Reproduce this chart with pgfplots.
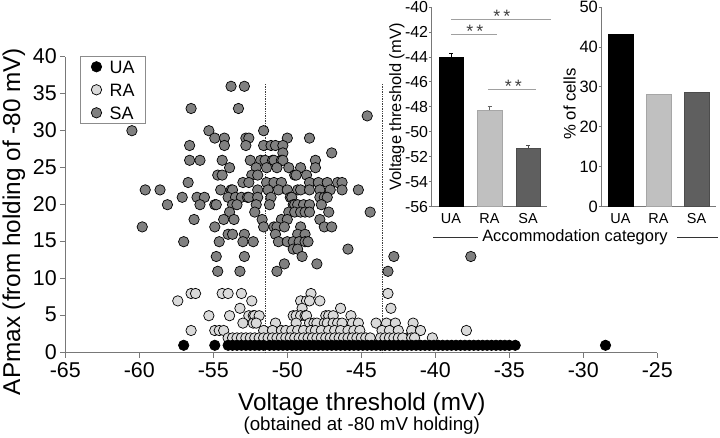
\documentclass[border=0pt]{standalone}
\usepackage{fontspec}
\setmainfont{Liberation Sans}
\usepackage{pgfplots}
\pgfplotsset{compat=1.18}
\definecolor{saFill}{RGB}{128,128,128}
\definecolor{raFill}{RGB}{218,218,218}
\definecolor{raBar}{RGB}{192,192,192}
\definecolor{saBar}{RGB}{95,95,95}
\definecolor{sigGray}{RGB}{160,160,160}
\definecolor{axGray}{RGB}{120,120,120}
\begin{document}
\begin{tikzpicture}
\path[use as bounding box] (0,0) rectangle (720bp,438bp);
% ---------------- main scatter ----------------
\begin{axis}[
  at={(65.3bp,85.3bp)}, anchor=south west, scale only axis,
  width=592bp, height=296bp,
  xmin=-65, xmax=-25, ymin=0, ymax=40,
  axis lines=left, axis line style={-, axGray, line width=0.8bp},
  xtick={-65,-60,...,-25}, ytick={0,5,...,40},
  tick align=outside, major tick length=5bp,
  tick style={axGray, line width=0.8bp},
  ticklabel style={font=\fontsize{21.5}{24}\selectfont},
  xticklabel style={yshift=-1.5bp},
  yticklabel style={yshift=1bp},
  /pgf/number format/assume math mode=true,
  mark size=5.2bp,
  reverse legend,
  legend cell align=left,
  legend style={at={(0.0248,1.0024)}, anchor=north west, draw=black!45,
    line width=0.6bp, fill=white, inner xsep=11bp, inner ysep=4bp,
    row sep=10bp, font=\fontsize{18}{18}\selectfont,
    nodes={inner sep=0pt, text height=13bp, text depth=0bp},
    /tikz/every odd column/.append style={column sep=8bp}},
  legend image code/.code={\draw[#1, mark repeat=2, mark phase=2]
    plot coordinates {(0bp,0bp) (6bp,0bp) (12bp,0bp)};},
]
\addplot[densely dotted, black!75, line width=0.7bp, forget plot] coordinates {(-51.5,0) (-51.5,36.3)};
\addplot[densely dotted, black!75, line width=0.7bp, forget plot] coordinates {(-43.6,0) (-43.6,36.3)};
% SA
\addplot[only marks, mark=*, mark options={draw=black, fill=saFill, line width=0.7bp}] coordinates {
(-53.8,36) (-52.9,36)
(-56.5,33) (-53.3,33) (-44.6,32)
(-60.5,30) (-55.3,30) (-51.6,30)
(-54.9,29) (-54.25,29) (-52.8,29) (-52.6,29) (-50.0,29) (-48.5,29)
(-56.6,28) (-54.25,28) (-52.8,28) (-51.6,28) (-51.1,28) (-50.8,28) (-50.3,28)
(-50.3,27) (-47.0,27)
(-56.6,26) (-55.9,26) (-54.4,26) (-52.5,26) (-51.8,26) (-51.5,26) (-51.0,26) (-50.9,26) (-50.4,26) (-50.3,26) (-48.1,26)
(-53.9,25) (-52.1,25) (-51.4,25) (-50.7,25) (-49.9,25) (-49.1,25) (-48.1,25)
(-54.7,24) (-54.4,24) (-52.4,24) (-52.0,24) (-49.5,24) (-49.4,24) (-48.7,24)
(-56.7,23) (-53.0,23) (-52.6,23) (-51.4,23) (-50.9,23) (-50.4,23) (-48.5,23) (-47.9,23) (-47.3,23) (-46.6,23) (-46.3,23)
(-59.6,22) (-58.6,22) (-54.5,22) (-53.8,22) (-53.7,22) (-52.0,22) (-51.3,22) (-50.6,22) (-50.0,22) (-49.3,22) (-49.1,22) (-48.5,22) (-47.8,22) (-47.1,22) (-46.3,22) (-45.2,22)
(-57.1,21) (-56.1,21) (-55.6,21) (-54.0,21) (-53.5,21) (-53.1,21) (-52.7,21) (-52.6,21) (-52.0,21) (-51.1,21) (-49.8,21) (-49.7,21) (-47.8,21) (-47.5,21) (-47.3,21)
(-58.1,20) (-55.9,20) (-54.9,20) (-54.8,20) (-53.7,20) (-53.4,20) (-52.1,20) (-51.2,20) (-49.6,20) (-49.5,20) (-49.3,20) (-48.9,20) (-48.5,20) (-47.7,20)
(-53.9,19) (-52.2,19) (-49.9,19) (-49.5,19) (-49.1,19) (-48.8,19) (-48.5,19) (-47.2,19) (-44.4,19)
(-56.3,18) (-54.3,18) (-53.6,18) (-51.7,18) (-50.4,18) (-50.0,18) (-47.8,18)
(-59.8,17) (-54.9,17) (-51.6,17) (-50.9,17) (-50.7,17) (-50.2,17) (-49.1,17) (-47.5,17) (-47.0,17)
(-54.0,16) (-53.7,16) (-52.9,16) (-50.8,16) (-49.3,16) (-48.8,16)
(-57.0,15) (-54.6,15) (-53.0,15) (-52.3,15) (-50.6,15) (-50.0,15) (-49.6,15) (-49.2,15) (-48.8,15) (-48.6,15)
(-49.6,14) (-49.3,14) (-45.9,14)
(-54.8,13) (-52.9,13) (-49.0,13) (-42.8,13) (-37.6,13)
(-50.2,12) (-48.0,12)
(-54.7,11) (-53.2,11) (-50.7,11) (-43.2,11)
(-41.9,2)
};
\addlegendentry{SA}
% RA
\addplot[only marks, mark=*, mark options={draw=black, fill=raFill, line width=0.7bp}] coordinates {
(-56.5,8) (-56.2,8) (-54.4,8) (-54.0,8) (-53.1,8) (-48.4,8) (-43.2,8)
(-57.4,7) (-52.4,7) (-49.1,7) (-48.7,7) (-48.5,7) (-47.8,7)
(-53.2,6) (-49.0,6) (-46.4,6) (-43.0,6)
(-55.3,5) (-53.9,5) (-52.6,5) (-52.3,5) (-52.2,5) (-51.9,5) (-49.6,5) (-49.4,5) (-49.1,5) (-48.8,5) (-48.7,5) (-47.4,5) (-47.2,5) (-46.9,5) (-45.7,5)
(-53.0,4) (-52.3,4) (-52.1,4) (-50.8,4) (-49.4,4) (-48.5,4) (-48.2,4) (-48.0,4) (-47.5,4) (-47.3,4) (-46.9,4) (-46.6,4) (-46.3,4) (-45.6,4) (-45.2,4) (-44.0,4) (-43.3,4) (-42.7,4) (-41.5,4)
(-56.5,3) (-54.9,3) (-54.6,3) (-54.3,3) (-51.6,3) (-51.0,3) (-50.4,3) (-50.1,3) (-49.7,3) (-49.3,3) (-48.9,3) (-48.4,3) (-48.1,3) (-47.7,3) (-47.2,3) (-46.8,3) (-46.4,3) (-45.9,3) (-45.5,3) (-45.1,3) (-43.6,3) (-43.1,3) (-42.5,3) (-41.6,3) (-41.0,3) (-37.9,3)
(-54.0,2) (-53.7,2) (-53.4,2) (-53.1,2) (-52.8,2) (-52.5,2) (-52.2,2) (-51.9,2) (-51.6,2) (-51.3,2) (-51.0,2) (-50.7,2) (-50.4,2) (-50.1,2) (-49.8,2) (-49.5,2) (-49.2,2) (-48.9,2) (-48.6,2) (-48.3,2) (-48.0,2) (-47.7,2) (-47.4,2) (-47.1,2) (-46.8,2) (-46.5,2) (-46.2,2) (-45.9,2) (-45.6,2) (-45.3,2) (-45.0,2) (-44.7,2) (-44.4,2)
(-43.7,2) (-43.4,2) (-43.1,2) (-42.8,2) (-42.5,2) (-42.2,2) (-41.6,2) (-41.4,2) (-40.2,2)
};
\addlegendentry{RA}
% UA
\addplot[only marks, mark=*, mark options={draw=black, fill=black, line width=0.7bp}] coordinates {
(-57.0,1) (-54.9,1) (-54.0,1) (-53.7,1) (-53.4,1) (-53.1,1) (-52.8,1) (-52.5,1) (-52.2,1) (-51.9,1) (-51.6,1)
(-51.2,1) (-50.9,1) (-50.6,1) (-50.3,1) (-50.0,1) (-49.7,1) (-49.4,1) (-49.1,1) (-48.8,1) (-48.5,1)
(-48.2,1) (-47.9,1) (-47.6,1) (-47.3,1) (-47.0,1) (-46.7,1) (-46.4,1) (-46.1,1) (-45.8,1) (-45.5,1)
(-45.2,1) (-44.9,1) (-44.6,1) (-44.3,1) (-44.0,1) (-43.7,1) (-43.4,1) (-43.1,1) (-42.8,1) (-42.5,1)
(-42.2,1) (-41.9,1) (-41.6,1) (-41.3,1) (-41.0,1) (-40.7,1) (-40.4,1) (-40.1,1) (-39.8,1) (-39.5,1)
(-39.2,1) (-38.9,1) (-38.6,1) (-38.3,1) (-38.0,1) (-37.7,1) (-37.4,1) (-37.1,1) (-36.8,1) (-36.5,1)
(-36.2,1) (-35.9,1) (-35.6,1) (-35.3,1) (-35.0,1) (-34.6,1) (-28.5,1)
};
\addlegendentry{UA}
\end{axis}
% ---------------- inset 1: voltage threshold ----------------
\begin{axis}[
  at={(431.75bp,231.3bp)}, anchor=south west, scale only axis,
  width=115.5bp, height=199.7bp,
  xmin=-0.5, xmax=2.5, ymin=0, ymax=16, enlargelimits=false,
  y filter/.expression={y+56},
  axis lines=left, axis line style={-, axGray, line width=0.8bp},
  xtick={0,1,2}, xticklabels={UA,RA,SA},
  ytick={0,2,...,16}, yticklabels={-56,-54,-52,-50,-48,-46,-44,-42,-40},
  tick align=outside, major tick length=3bp,
  xtick style={draw=none}, ytick style={axGray, line width=0.8bp},
  xticklabel style={font=\fontsize{14.5}{15}\selectfont},
  yticklabel style={font=\fontsize{16}{17}\selectfont, inner xsep=0.5bp},
  clip=false,
]
\addplot[ybar, bar width=24.5bp, bar shift=0pt, fill=black, draw=black,
  error bars/.cd, y dir=plus, y explicit,
  error bar style={black, line width=0.8bp}, error mark options={rotate=90, mark size=2bp, black}]
  coordinates {(0,-44.06) +- (0,0.35)};
\addplot[ybar, bar width=24.5bp, bar shift=0pt, fill=raBar, draw=black!35, line width=0.5bp,
  error bars/.cd, y dir=plus, y explicit,
  error bar style={black!60, line width=0.8bp}, error mark options={rotate=90, mark size=2bp, black!60}]
  coordinates {(1,-48.28) +- (0,0.35)};
\addplot[ybar, bar width=24.5bp, bar shift=0pt, fill=saBar, draw=black!70, line width=0.5bp,
  error bars/.cd, y dir=plus, y explicit,
  error bar style={black!70, line width=0.8bp}, error mark options={rotate=90, mark size=2bp, black!70}]
  coordinates {(2,-51.32) +- (0,0.26)};
\addplot[sigGray, line width=0.9bp] coordinates {(0,-41) (2.6,-41)};
\addplot[sigGray, line width=0.9bp] coordinates {(0,-42.2) (1.2,-42.2)};
\addplot[sigGray, line width=0.9bp] coordinates {(0.96,-46.6) (2.2,-46.6)};
\node[anchor=north, inner sep=0pt, font=\fontsize{18}{18}\selectfont, text=black!75] at (axis cs:1.32,15.76) {*\,*};
\node[anchor=north, inner sep=0pt, font=\fontsize{18}{18}\selectfont, text=black!75] at (axis cs:0.62,14.56) {*\,*};
\node[anchor=north, inner sep=0pt, font=\fontsize{18}{18}\selectfont, text=black!75] at (axis cs:1.62,10.15) {*\,*};
\end{axis}
% ---------------- inset 2: percent of cells ----------------
\begin{axis}[
  at={(601.5bp,231.3bp)}, anchor=south west, scale only axis,
  width=114bp, height=199.7bp,
  xmin=-0.5, xmax=2.5, ymin=0, ymax=50, enlargelimits=false,
  axis lines=left, axis line style={-, axGray, line width=0.8bp},
  xtick={0,1,2}, xticklabels={UA,RA,SA},
  ytick={0,10,...,50},
  tick align=outside, major tick length=3bp,
  xtick style={draw=none}, ytick style={axGray, line width=0.8bp},
  xticklabel style={font=\fontsize{14.5}{15}\selectfont},
  yticklabel style={font=\fontsize{16.5}{17}\selectfont, inner xsep=0.5bp},
  /pgf/number format/assume math mode=true,
  clip=false,
]
\addplot[ybar, bar width=25bp, bar shift=0pt, fill=black, draw=black] coordinates {(0,43.2)};
\addplot[ybar, bar width=25bp, bar shift=0pt, fill=raBar, draw=black!35, line width=0.5bp] coordinates {(1,28.2)};
\addplot[ybar, bar width=25bp, bar shift=0pt, fill=saBar, draw=black!70, line width=0.5bp] coordinates {(2,28.6)};
\end{axis}
% ---------------- labels ----------------
\node[rotate=90, anchor=base, inner sep=0pt, font=\fontsize{24.4}{26}\selectfont] at (20bp,216.5bp) {APmax (from holding of -80 mV)};
\node[anchor=base, inner sep=0pt, font=\fontsize{24.4}{26}\selectfont] at (361.8bp,27.5bp) {Voltage threshold (mV)};
\node[anchor=base, inner sep=0pt, font=\fontsize{18.8}{20}\selectfont] at (361.7bp,7.8bp) {(obtained at -80 mV holding)};
\node[rotate=90, anchor=base, inner sep=0pt, font=\fontsize{16.5}{17}\selectfont] at (401.2bp,331bp) {Voltage threshold (mV)};
\node[rotate=90, anchor=base, inner sep=0pt, font=\fontsize{16.8}{17}\selectfont] at (575.5bp,334bp) {\% of cells};
\node[anchor=center, inner sep=0pt, font=\fontsize{16.5}{17}\selectfont] at (575bp,201bp) {Accommodation category};
\draw[black!80, line width=0.7bp] (433bp,201bp) -- (478bp,201bp);
\draw[black!80, line width=0.7bp] (677bp,201bp) -- (718bp,201bp);
\end{tikzpicture}
\end{document}
